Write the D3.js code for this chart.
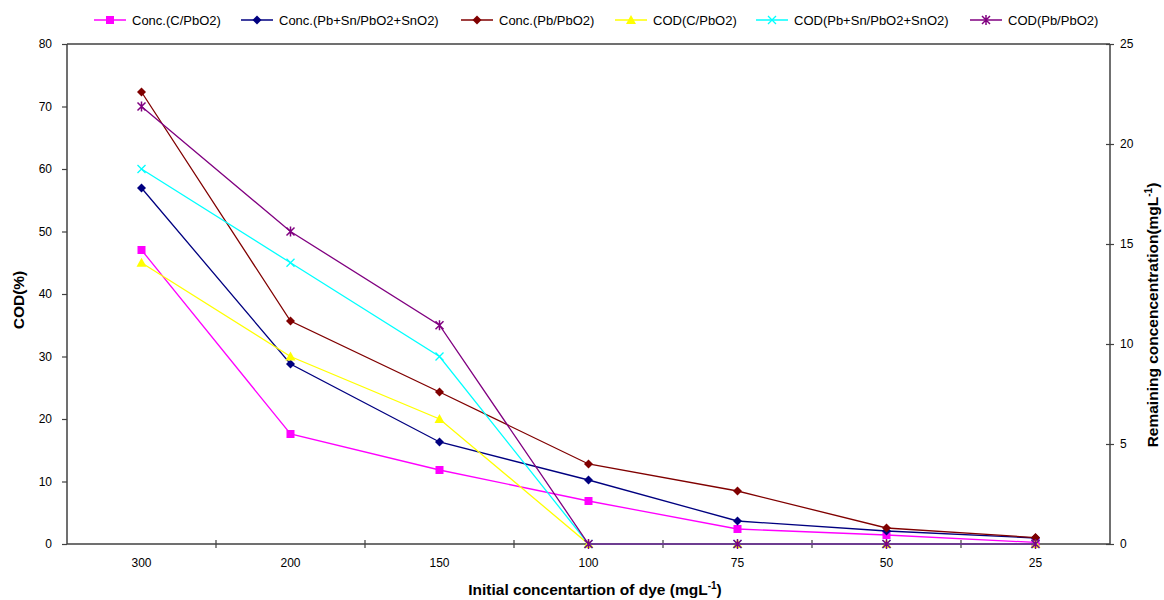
<!DOCTYPE html>
<html lang="en">
<head>
    <meta charset="UTF-8">
    <title>COD and remaining concentration vs initial dye concentration</title>
    <script src="https://d3js.org/d3.v7.min.js"></script>
    <style>
        body { margin: 0; background: #fff; }
        text { font-family: "Liberation Sans", Arial, sans-serif; fill: #000; }
        .tick-label { font-size: 12px; }
        .axis-title { font-size: 15.5px; font-weight: bold; }
        .legend text { font-size: 13px; }
        .axis-line { stroke: #404040; stroke-width: 1.5px; fill: none; }
        .series { fill: none; stroke-width: 1.3px; }
    </style>
</head>
<body>
    <svg width="1164" height="600"></svg>
    <script>
        // categories (initial dye concentration, mg/L)
        const categories = ["300", "200", "150", "100", "75", "50", "25"];

        // remaining concentration, right axis (mg/L)
        const concC = [14.7, 5.5, 3.7, 2.15, 0.75, 0.45, 0.08];
        const concPbSn = [17.8, 9.0, 5.1, 3.2, 1.15, 0.65, 0.3];
        const concPb = [22.6, 11.15, 7.6, 4.0, 2.65, 0.8, 0.32];

        // COD removal, left axis (%)
        const codC = [45, 30, 20, 0, 0, 0, 0];
        const codPbSn = [60, 45, 30, 0, 0, 0, 0];
        const codPb = [70, 50, 35, 0, 0, 0, 0];

        const leftTicks = [0, 10, 20, 30, 40, 50, 60, 70, 80];
        const rightTicks = [0, 5, 10, 15, 20, 25];

        const series = [
            { name: "Conc.(C/PbO2)", values: concC, axis: "right", color: "#ff00ff", marker: "square" },
            { name: "Conc.(Pb+Sn/PbO2+SnO2)", values: concPbSn, axis: "right", color: "#000080", marker: "diamond" },
            { name: "Conc.(Pb/PbO2)", values: concPb, axis: "right", color: "#800000", marker: "diamond" },
            { name: "COD(C/PbO2)", values: codC, axis: "left", color: "#ffff00", marker: "triangle" },
            { name: "COD(Pb+Sn/PbO2+SnO2)", values: codPbSn, axis: "left", color: "#00ffff", marker: "cross" },
            { name: "COD(Pb/PbO2)", values: codPb, axis: "left", color: "#800080", marker: "star" }
        ];

        const svg = d3.select("svg");
        const plot = { left: 67, right: 1110, top: 44, bottom: 544 };

        const x = d3.scaleBand().domain(categories).range([plot.left, plot.right]);
        const yLeft = d3.scaleLinear().domain([0, 80]).range([plot.bottom, plot.top]);
        const yRight = d3.scaleLinear().domain([0, 25]).range([plot.bottom, plot.top]);

        // top border
        svg.append("line").attr("class", "axis-line")
            .attr("x1", plot.left).attr("x2", plot.right)
            .attr("y1", plot.top).attr("y2", plot.top);

        // left axis
        const gl = svg.append("g").attr("transform", `translate(${plot.left},0)`)
            .call(d3.axisLeft(yLeft).tickValues(leftTicks).tickSize(5).tickPadding(10));
        gl.select(".domain").attr("class", "axis-line domain").attr("d", `M0,${plot.top}V${plot.bottom}`);
        gl.selectAll(".tick line").attr("stroke", "#404040").attr("stroke-width", 1.2);
        gl.selectAll(".tick text").attr("class", "tick-label").attr("font-size", null).attr("font-family", null);

        // right axis (cross ticks)
        const gr = svg.append("g").attr("transform", `translate(${plot.right},0)`)
            .call(d3.axisRight(yRight).tickValues(rightTicks).tickSize(4).tickPadding(6));
        gr.select(".domain").attr("class", "axis-line domain").attr("d", `M0,${plot.top}V${plot.bottom}`);
        gr.selectAll(".tick line").attr("x1", -4).attr("stroke", "#404040").attr("stroke-width", 1.2);
        gr.selectAll(".tick text").attr("class", "tick-label").attr("font-size", null).attr("font-family", null);

        // bottom axis: labels at band centres, cross ticks at band boundaries
        const gx = svg.append("g").attr("transform", `translate(0,${plot.bottom})`)
            .call(d3.axisBottom(x).tickSize(0).tickPadding(14));
        gx.select(".domain").attr("class", "axis-line domain").attr("d", `M${plot.left},0H${plot.right}`);
        gx.selectAll(".tick text").attr("class", "tick-label").attr("font-size", null).attr("font-family", null);
        gx.selectAll(".bound")
            .data(categories.slice(1))
            .enter().append("line")
            .attr("class", "bound")
            .attr("x1", d => x(d)).attr("x2", d => x(d))
            .attr("y1", -4).attr("y2", 4)
            .attr("stroke", "#404040").attr("stroke-width", 1.2);

        // axis titles
        svg.append("text").attr("class", "axis-title")
            .attr("transform", "translate(24,300) rotate(-90)")
            .attr("text-anchor", "middle")
            .text("COD(%)");

        const rt = svg.append("text").attr("class", "axis-title")
            .attr("transform", "translate(1158,315) rotate(-90)")
            .attr("text-anchor", "middle");
        rt.append("tspan").text("Remaining concencentration(mgL");
        rt.append("tspan").attr("dy", -6).attr("font-size", 10).text("-1");
        rt.append("tspan").attr("dy", 6).text(")");

        const xt = svg.append("text").attr("class", "axis-title")
            .attr("x", 595).attr("y", 595)
            .attr("text-anchor", "middle");
        xt.append("tspan").text("Initial concentartion of dye (mgL");
        xt.append("tspan").attr("dy", -6).attr("font-size", 10).text("-1");
        xt.append("tspan").attr("dy", 6).text(")");

        function drawMarker(g, type, color) {
            if (type === "square") {
                g.append("rect").attr("x", -4).attr("y", -4).attr("width", 8).attr("height", 8).attr("fill", color);
            } else if (type === "diamond") {
                g.append("path").attr("d", "M0,-4.5L4.5,0L0,4.5L-4.5,0Z").attr("fill", color);
            } else if (type === "triangle") {
                g.append("path").attr("d", "M0,-5L5,4L-5,4Z").attr("fill", color);
            } else if (type === "cross") {
                g.append("path").attr("d", "M-4,-4L4,4M-4,4L4,-4").attr("stroke", color).attr("stroke-width", 1.3);
            } else if (type === "star") {
                g.append("path").attr("d", "M-4,-4L4,4M-4,4L4,-4M0,-5V5").attr("stroke", color).attr("stroke-width", 1.5);
            }
        }

        const line = d3.line();

        series.forEach(s => {
            const ys = s.axis === "left" ? yLeft : yRight;
            const pts = s.values.map((v, i) => [x(categories[i]) + x.bandwidth() / 2, ys(v)]);
            svg.append("path")
                .attr("class", "series")
                .attr("d", line(pts))
                .attr("stroke", s.color);
            svg.append("g").selectAll("g")
                .data(pts)
                .enter().append("g")
                .attr("transform", d => `translate(${d[0]},${d[1]})`)
                .each(function () { drawMarker(d3.select(this), s.marker, s.color); });
        });

        // legend
        const legendX = [94, 241, 461, 615, 756, 970];
        const legend = svg.append("g").attr("class", "legend");
        series.forEach((s, i) => {
            const g = legend.append("g").attr("transform", `translate(${legendX[i]},20)`);
            g.append("line").attr("x1", 0).attr("x2", 32).attr("y1", 0).attr("y2", 0)
                .attr("stroke", s.color).attr("stroke-width", 1.5);
            const m = g.append("g").attr("transform", "translate(16,0)");
            drawMarker(m, s.marker, s.color);
            g.append("text").attr("x", 38).attr("y", 4.5).text(s.name);
        });
    </script>
</body>
</html>
